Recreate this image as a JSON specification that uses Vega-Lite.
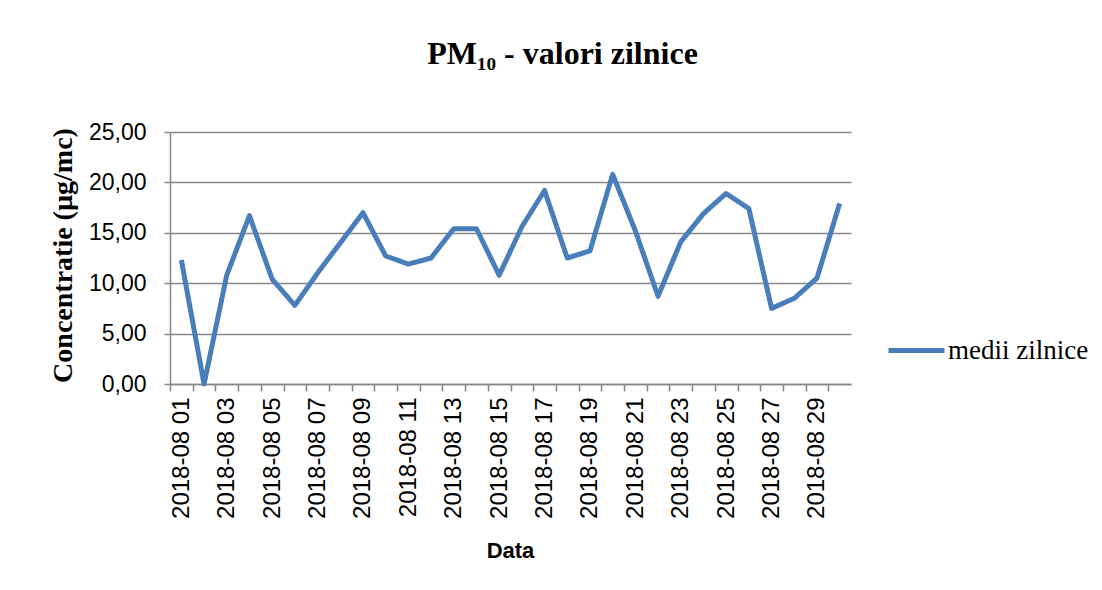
{
  "$schema": "https://vega.github.io/schema/vega-lite/v6.json",
  "width": 681,
  "height": 252,
  "autosize": {"type": "none"},
  "padding": {"left": 170, "top": 132, "right": 251, "bottom": 206},
  "background": "white",
  "title": {
    "text": "PM₁₀ - valori zilnice",
    "font": "Liberation Serif",
    "fontSize": 32,
    "fontWeight": "bold",
    "color": "black",
    "anchor": "middle",
    "dx": 52,
    "offset": 50
  },
  "data": {
    "values": [
      {"zi": "2018-08 01", "valoare": 12.3},
      {"zi": "2018-08 02", "valoare": 0.0},
      {"zi": "2018-08 03", "valoare": 10.8},
      {"zi": "2018-08 04", "valoare": 16.7},
      {"zi": "2018-08 05", "valoare": 10.4},
      {"zi": "2018-08 06", "valoare": 7.8},
      {"zi": "2018-08 07", "valoare": 11.0},
      {"zi": "2018-08 08", "valoare": 14.0},
      {"zi": "2018-08 09", "valoare": 17.0},
      {"zi": "2018-08 10", "valoare": 12.7},
      {"zi": "2018-08 11", "valoare": 11.9},
      {"zi": "2018-08 12", "valoare": 12.5},
      {"zi": "2018-08 13", "valoare": 15.4},
      {"zi": "2018-08 14", "valoare": 15.4},
      {"zi": "2018-08 15", "valoare": 10.8},
      {"zi": "2018-08 16", "valoare": 15.6},
      {"zi": "2018-08 17", "valoare": 19.2},
      {"zi": "2018-08 18", "valoare": 12.5},
      {"zi": "2018-08 19", "valoare": 13.2},
      {"zi": "2018-08 20", "valoare": 20.8},
      {"zi": "2018-08 21", "valoare": 15.2},
      {"zi": "2018-08 22", "valoare": 8.7},
      {"zi": "2018-08 23", "valoare": 14.1},
      {"zi": "2018-08 24", "valoare": 16.9},
      {"zi": "2018-08 25", "valoare": 18.9},
      {"zi": "2018-08 26", "valoare": 17.4},
      {"zi": "2018-08 27", "valoare": 7.5},
      {"zi": "2018-08 28", "valoare": 8.5},
      {"zi": "2018-08 29", "valoare": 10.5},
      {"zi": "2018-08 30", "valoare": 17.9}
    ]
  },
  "mark": {"type": "line", "strokeWidth": 5, "strokeJoin": "round"},
  "encoding": {
    "x": {
      "field": "zi",
      "type": "ordinal",
      "scale": {"type": "point", "padding": 0.5},
      "axis": {
        "title": "Data",
        "titleFont": "Liberation Sans",
        "titleFontSize": 22,
        "titleFontWeight": "bold",
        "titleColor": "black",
        "titleX": 340,
        "titleY": 166,
        "titleBaseline": "middle",
        "titleAlign": "center",
        "labelAngle": 270,
        "labelFont": "Liberation Sans",
        "labelFontSize": 24,
        "labelColor": "black",
        "labelPadding": 6,
        "labelOverlap": false,
        "labelExpr": "toNumber(slice(datum.value, 8)) % 2 == 1 ? datum.value : ''",
        "tickOffset": -11.35,
        "labelOffset": 11.35,
        "tickSize": 7,
        "tickColor": "#878787",
        "tickWidth": 1.5,
        "domainColor": "#878787",
        "domainWidth": 1.5,
        "grid": false
      }
    },
    "y": {
      "field": "valoare",
      "type": "quantitative",
      "scale": {"domain": [0, 25], "nice": false, "zero": true},
      "axis": {
        "title": "Concentratie (µg/mc)",
        "titleFont": "Liberation Serif",
        "titleFontSize": 28,
        "titleFontWeight": "bold",
        "titleColor": "black",
        "titleAngle": -90,
        "titleX": -107,
        "titleY": 123,
        "titleBaseline": "middle",
        "titleAlign": "center",
        "values": [0, 5, 10, 15, 20, 25],
        "labelExpr": "replace(format(datum.value, '.2f'), '.', ',')",
        "labelFont": "Liberation Sans",
        "labelFontSize": 23,
        "labelColor": "black",
        "labelPadding": 18,
        "tickSize": 6,
        "tickColor": "#878787",
        "tickWidth": 1.5,
        "domainColor": "#878787",
        "domainWidth": 1.5,
        "grid": true,
        "gridColor": "#878787",
        "gridWidth": 1.5
      }
    },
    "color": {
      "datum": "medii zilnice",
      "type": "nominal",
      "scale": {"domain": ["medii zilnice"], "range": ["#4a7ebb"]},
      "legend": {
        "title": null,
        "orient": "none",
        "legendX": 716,
        "legendY": 188,
        "symbolType": "stroke",
        "symbolStrokeWidth": 5,
        "symbolSize": 3136,
        "labelOffset": 1,
        "labelFont": "Liberation Serif",
        "labelFontSize": 27,
        "labelColor": "black"
      }
    }
  },
  "config": {
    "view": {"stroke": null}
  }
}
